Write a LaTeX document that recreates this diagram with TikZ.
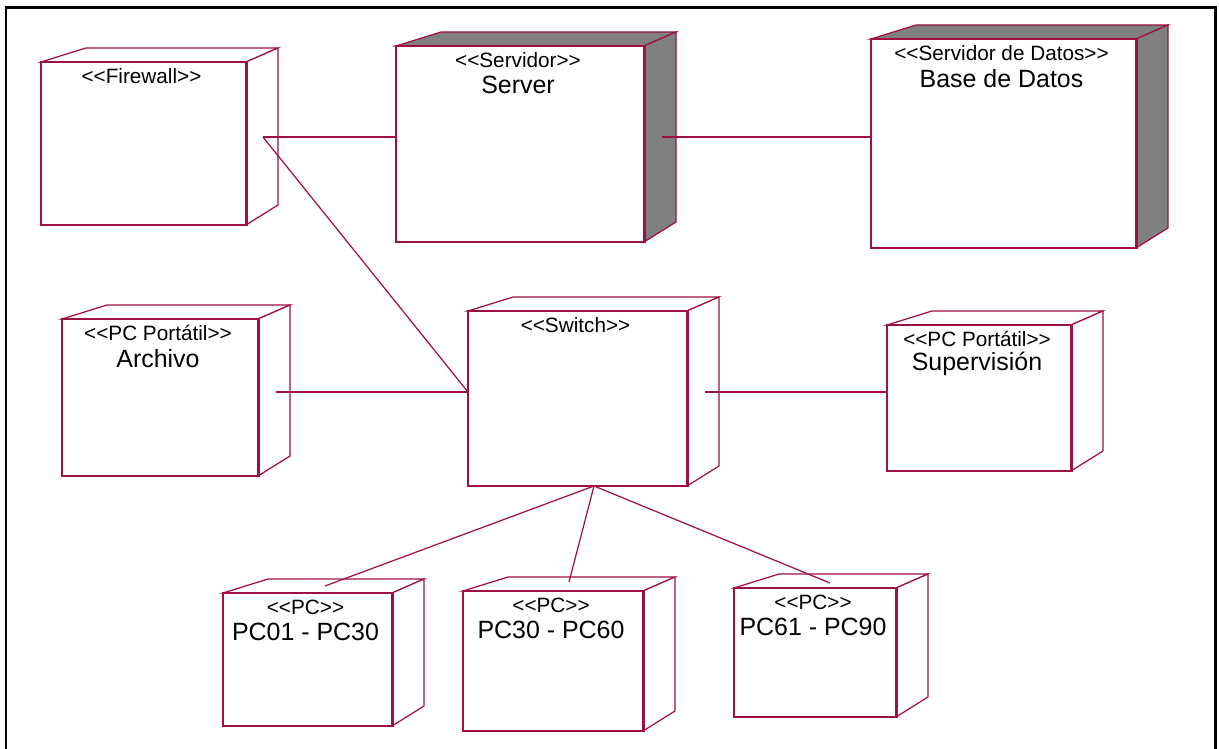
\documentclass[tikz,border=0pt]{standalone}
\usepackage{fontspec}
\setmainfont{Liberation Sans}
\usetikzlibrary{fit,calc}

\definecolor{granate}{RGB}{160,15,65}
\definecolor{lateral}{RGB}{128,128,128}

\newcommand{\estereotipo}[1]{{<}{<}#1{>}{>}}

\tikzset{
  caja/.style={draw=granate, line width=0.7pt, line join=miter},
  frente/.style={caja, fill=white, inner sep=0pt},
  enlace/.style={draw=granate, line width=0.7pt},
  estereo/.style={font=\fontsize{11.8}{14}\selectfont, inner sep=0pt},
  nombre/.style={font=\fontsize{14.2}{17}\selectfont, inner sep=0pt},
  marco/.style={draw=black, line width=1.7pt},
}

% caja 3D: nombre, x1, y1, x2, y2, relleno, estereotipo, etiqueta
\newcommand{\nodo}[8]{%
  \filldraw[caja, fill=#6] (#2,#3) -- (#2+45,#3-14) -- (#4+32,#3-14) -- (#4,#3) -- cycle;
  \filldraw[caja, fill=#6] (#4,#3) -- (#4+32,#3-14) -- (#4+32,#5-20) -- (#4,#5) -- cycle;
  \node[frente, fit={(#2,#3) (#4,#5)}] (#1) {};
  \draw[granate, line width=1.8pt] (#1.north east) -- (#1.south east);
  \node[estereo] (#1-st) at ($(#1.north)+(-2,15)$) {\estereotipo{#7}};
  \node[nombre] (#1-nom) at ($(#1.north)+(-2,40)$) {#8};
}

\begin{document}
\begin{tikzpicture}[x=0.02cm, y=-0.02cm]
  \useasboundingbox (0,0) rectangle (1219,749);
  \draw[marco] (6,749) -- (6,8) -- (1215,8) -- (1215,749);

  % fila de arriba
  \nodo{firewall}{41}{62}{246}{225}{white}{Firewall}{}
  \nodo{server}{396}{46}{644}{242}{lateral}{Servidor}{Server}
  \nodo{base}{871}{39}{1136}{248}{lateral}{Servidor de Datos}{Base de Datos}

  % fila del medio
  \nodo{archivo}{62}{319}{258}{476}{white}{PC Portátil}{Archivo}
  \nodo{switch}{468}{311}{687}{486}{white}{Switch}{}
  \nodo{super}{887}{325}{1071}{471}{white}{PC Portátil}{Supervisión}

  % PCs
  \nodo{pcA}{223}{593}{392}{726}{white}{PC}{PC01 - PC30}
  \nodo{pcB}{463}{591}{643}{731}{white}{PC}{PC30 - PC60}
  \nodo{pcC}{734}{588}{896}{717}{white}{PC}{PC61 - PC90}

  % puntos de enlace
  \coordinate (fw-p) at (263,137);
  \coordinate (sv-p) at (662,137);
  \coordinate (ar-p) at (276,392);
  \coordinate (sw-izq) at (468,392);
  \coordinate (sw-der) at (705,392);
  \coordinate (sw-abajo) at (594,486);
  \coordinate (pcA-p) at (325,586);
  \coordinate (pcB-p) at (569,582);
  \coordinate (pcC-p) at (830,583);

  \draw[enlace] (fw-p) -- (fw-p -| server.west);
  \draw[enlace] (sv-p) -- (sv-p -| base.west);
  \draw[enlace] (fw-p) -- (sw-izq);
  \draw[enlace] (ar-p) -- (ar-p -| switch.west);
  \draw[enlace] (sw-der) -- (sw-der -| super.west);
  \draw[enlace] (sw-abajo) -- (pcA-p);
  \draw[enlace] (sw-abajo) -- (pcB-p);
  \draw[enlace] (sw-abajo) -- (pcC-p);
\end{tikzpicture}
\end{document}
